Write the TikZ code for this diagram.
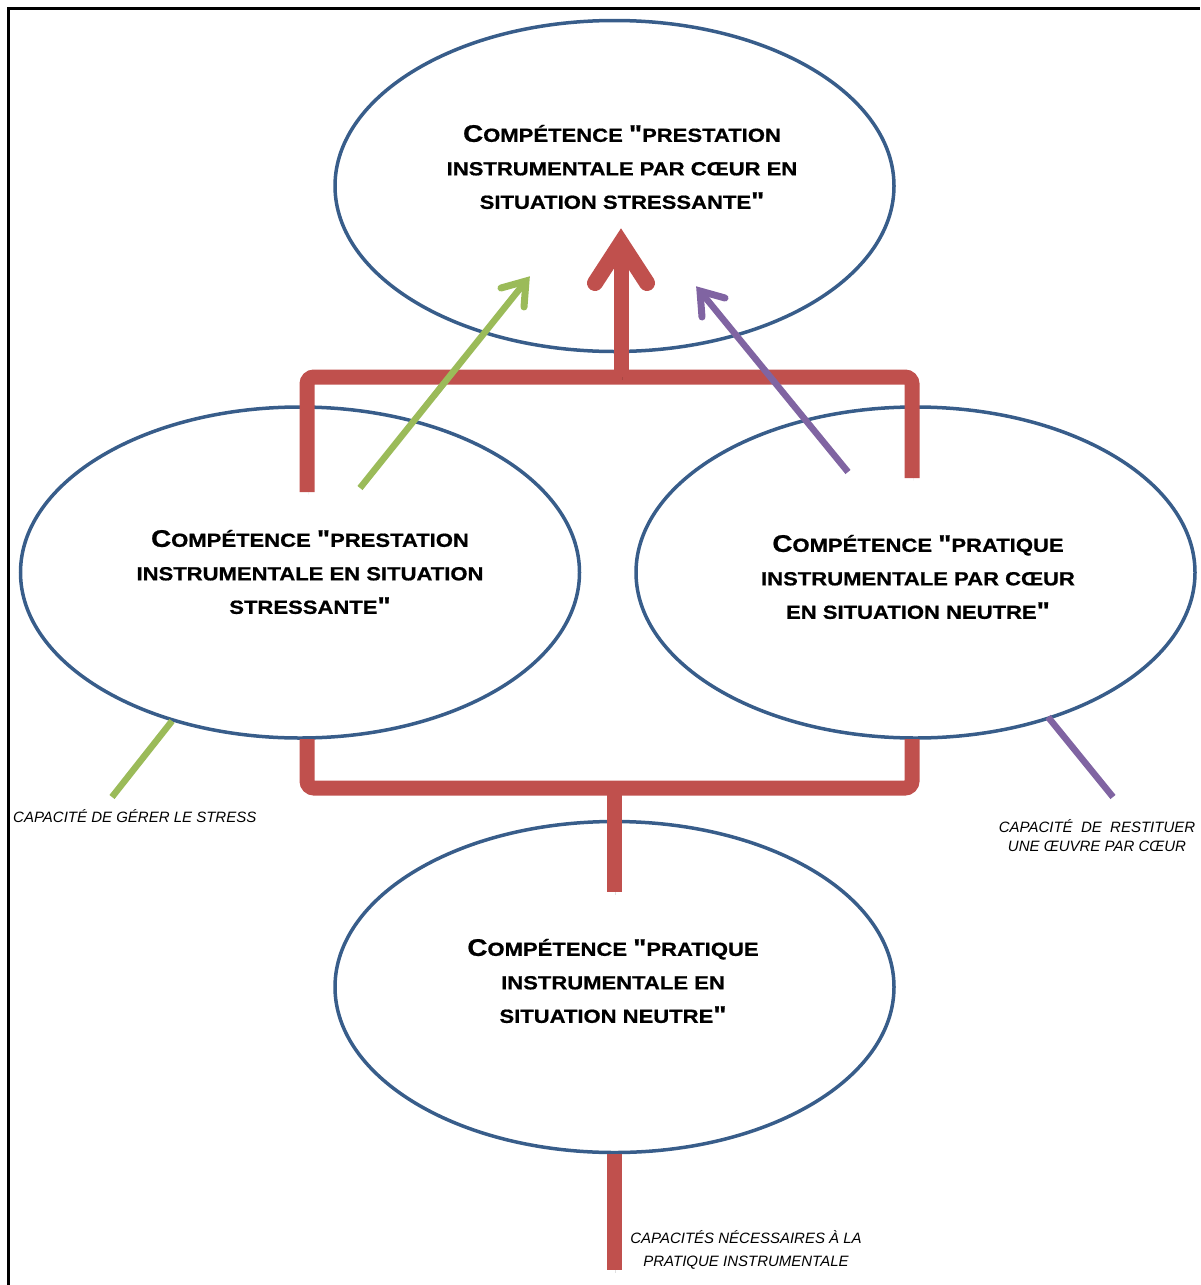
\documentclass[tikz,border=0pt]{standalone}
\usepackage{fontspec}
\setmainfont{Liberation Sans}
\newfontfamily\capsfont{Liberation Sans Bold}[FakeStretch=1.16,FakeBold=0.8]
\usetikzlibrary{shapes.geometric,arrows.meta}
\definecolor{ellblue}{RGB}{56,93,138}
\definecolor{cred}{RGB}{192,80,77}
\definecolor{cgreen}{RGB}{155,187,89}
\definecolor{cpurple}{RGB}{128,100,162}
\newcommand\bigC[1]{{\fontsize{24}{33.5}\selectfont #1}}
\tikzset{
  ell/.style={ellipse, draw=ellblue, line width=3.5pt, minimum width=559pt, minimum height=331pt, inner sep=0pt},
  ctext/.style={align=center, inner sep=0pt, font=\capsfont\fontsize{19}{33.5}\selectfont},
  lbl/.style={inner sep=0pt, font=\itshape\fontsize{15}{19}\selectfont, align=center},
  shadowed/.style={preaction={draw=black, opacity=0.12, transform canvas={shift={(1.5pt,-2.5pt)}}}},
  redln/.style={draw=cred, line width=15pt, rounded corners=7pt, shadowed},
  redhead/.style={draw=cred, line width=16pt, line cap=round, miter limit=10, shadowed},
  grnln/.style={draw=cgreen, line width=6.5pt},
  purln/.style={draw=cpurple, line width=6.5pt},
  smallhead/.style={line width=7pt, line cap=round, miter limit=10},
}
\begin{document}
\begin{tikzpicture}[x=1pt,y=-1pt]
\useasboundingbox (0,0) rectangle (1200,1285);
% frame
\draw[line width=3pt] (8,1285) -- (8,8) -- (1200,8);
% ellipses
\node[ell] (eT) at (614.5,186) {};
\node[ell] (eL) at (300,572.5) {};
\node[ell] (eR) at (915.5,572.5) {};
\node[ell] (eB) at (614.5,987) {};
% texts
\node[ctext] (tT) at (622,167) {\bigC{C}OMPÉTENCE \bigC{"}PRESTATION\\INSTRUMENTALE PAR CŒUR EN\\SITUATION STRESSANTE\bigC{"}};
\node[ctext] (tL) at (310,572) {\bigC{C}OMPÉTENCE \bigC{"}PRESTATION\\INSTRUMENTALE EN SITUATION\\STRESSANTE\bigC{"}};
\node[ctext] (tR) at (918,577) {\bigC{C}OMPÉTENCE \bigC{"}PRATIQUE\\INSTRUMENTALE PAR CŒUR\\EN SITUATION NEUTRE\bigC{"}};
\node[ctext] (tB) at (613,981) {\bigC{C}OMPÉTENCE \bigC{"}PRATIQUE\\INSTRUMENTALE EN\\SITUATION NEUTRE\bigC{"}};
% labels
\node[lbl, anchor=west] (lG) at (13,816) {CAPACITÉ DE GÉRER LE STRESS};
\node[lbl] (lP) at (1097,835.5) {CAPACITÉ\ \ DE\ \ RESTITUER\\UNE ŒUVRE PAR CŒUR};
\node[lbl, font=\itshape\fontsize{15}{23}\selectfont] (lR) at (746,1249.5) {CAPACITÉS NÉCESSAIRES À LA\\PRATIQUE INSTRUMENTALE};
% coordinates
\coordinate (tbL) at (307,492);
\coordinate (tbR) at (912,478);
\coordinate (tbM) at (621,377);
\coordinate (redTip) at (621,243);
\coordinate (redBL) at (595,283);
\coordinate (redBR) at (647,283);
\coordinate (bbL) at (307,739);
\coordinate (bbR) at (912,739);
\coordinate (bbM) at (614,788);
\coordinate (bbEnd) at (614,892);
\coordinate (botEnd) at (614,1270);
\coordinate (gS) at (360,488);
\coordinate (gTip) at (526,281);
\coordinate (gB1) at (501,288);
\coordinate (gB2) at (524,307);
\coordinate (pS) at (848,472);
\coordinate (pTip) at (700,291);
\coordinate (pB1) at (702,317);
\coordinate (pB2) at (725,298);
\coordinate (gLo) at (112,797);
\coordinate (gHi) at (172,721);
\coordinate (pLo) at (1113,797);
\coordinate (pHi) at (1048,717);
% red structure
\draw[redln] (tbL) -- (tbL |- tbM) -- (tbR |- tbM) -- (tbR);
\draw[redln, rounded corners=0pt] (tbM) -- (redTip);
\draw[redhead] (redBL) -- (redTip) -- (redBR);
\draw[redln] (bbL) -- (bbL |- bbM) -- (bbR |- bbM) -- (bbR);
\draw[redln, rounded corners=0pt] (bbM) -- (bbEnd);
\draw[redln, rounded corners=0pt] (eB.south -| botEnd) -- (botEnd);
% green and purple
\draw[grnln] (gS) -- (gTip);
\draw[draw=cgreen, smallhead] (gB1) -- (gTip) -- (gB2);
\draw[purln] (pS) -- (pTip);
\draw[draw=cpurple, smallhead] (pB1) -- (pTip) -- (pB2);
\draw[grnln] (gLo) -- (gHi);
\draw[purln] (pLo) -- (pHi);
\end{tikzpicture}
\end{document}
